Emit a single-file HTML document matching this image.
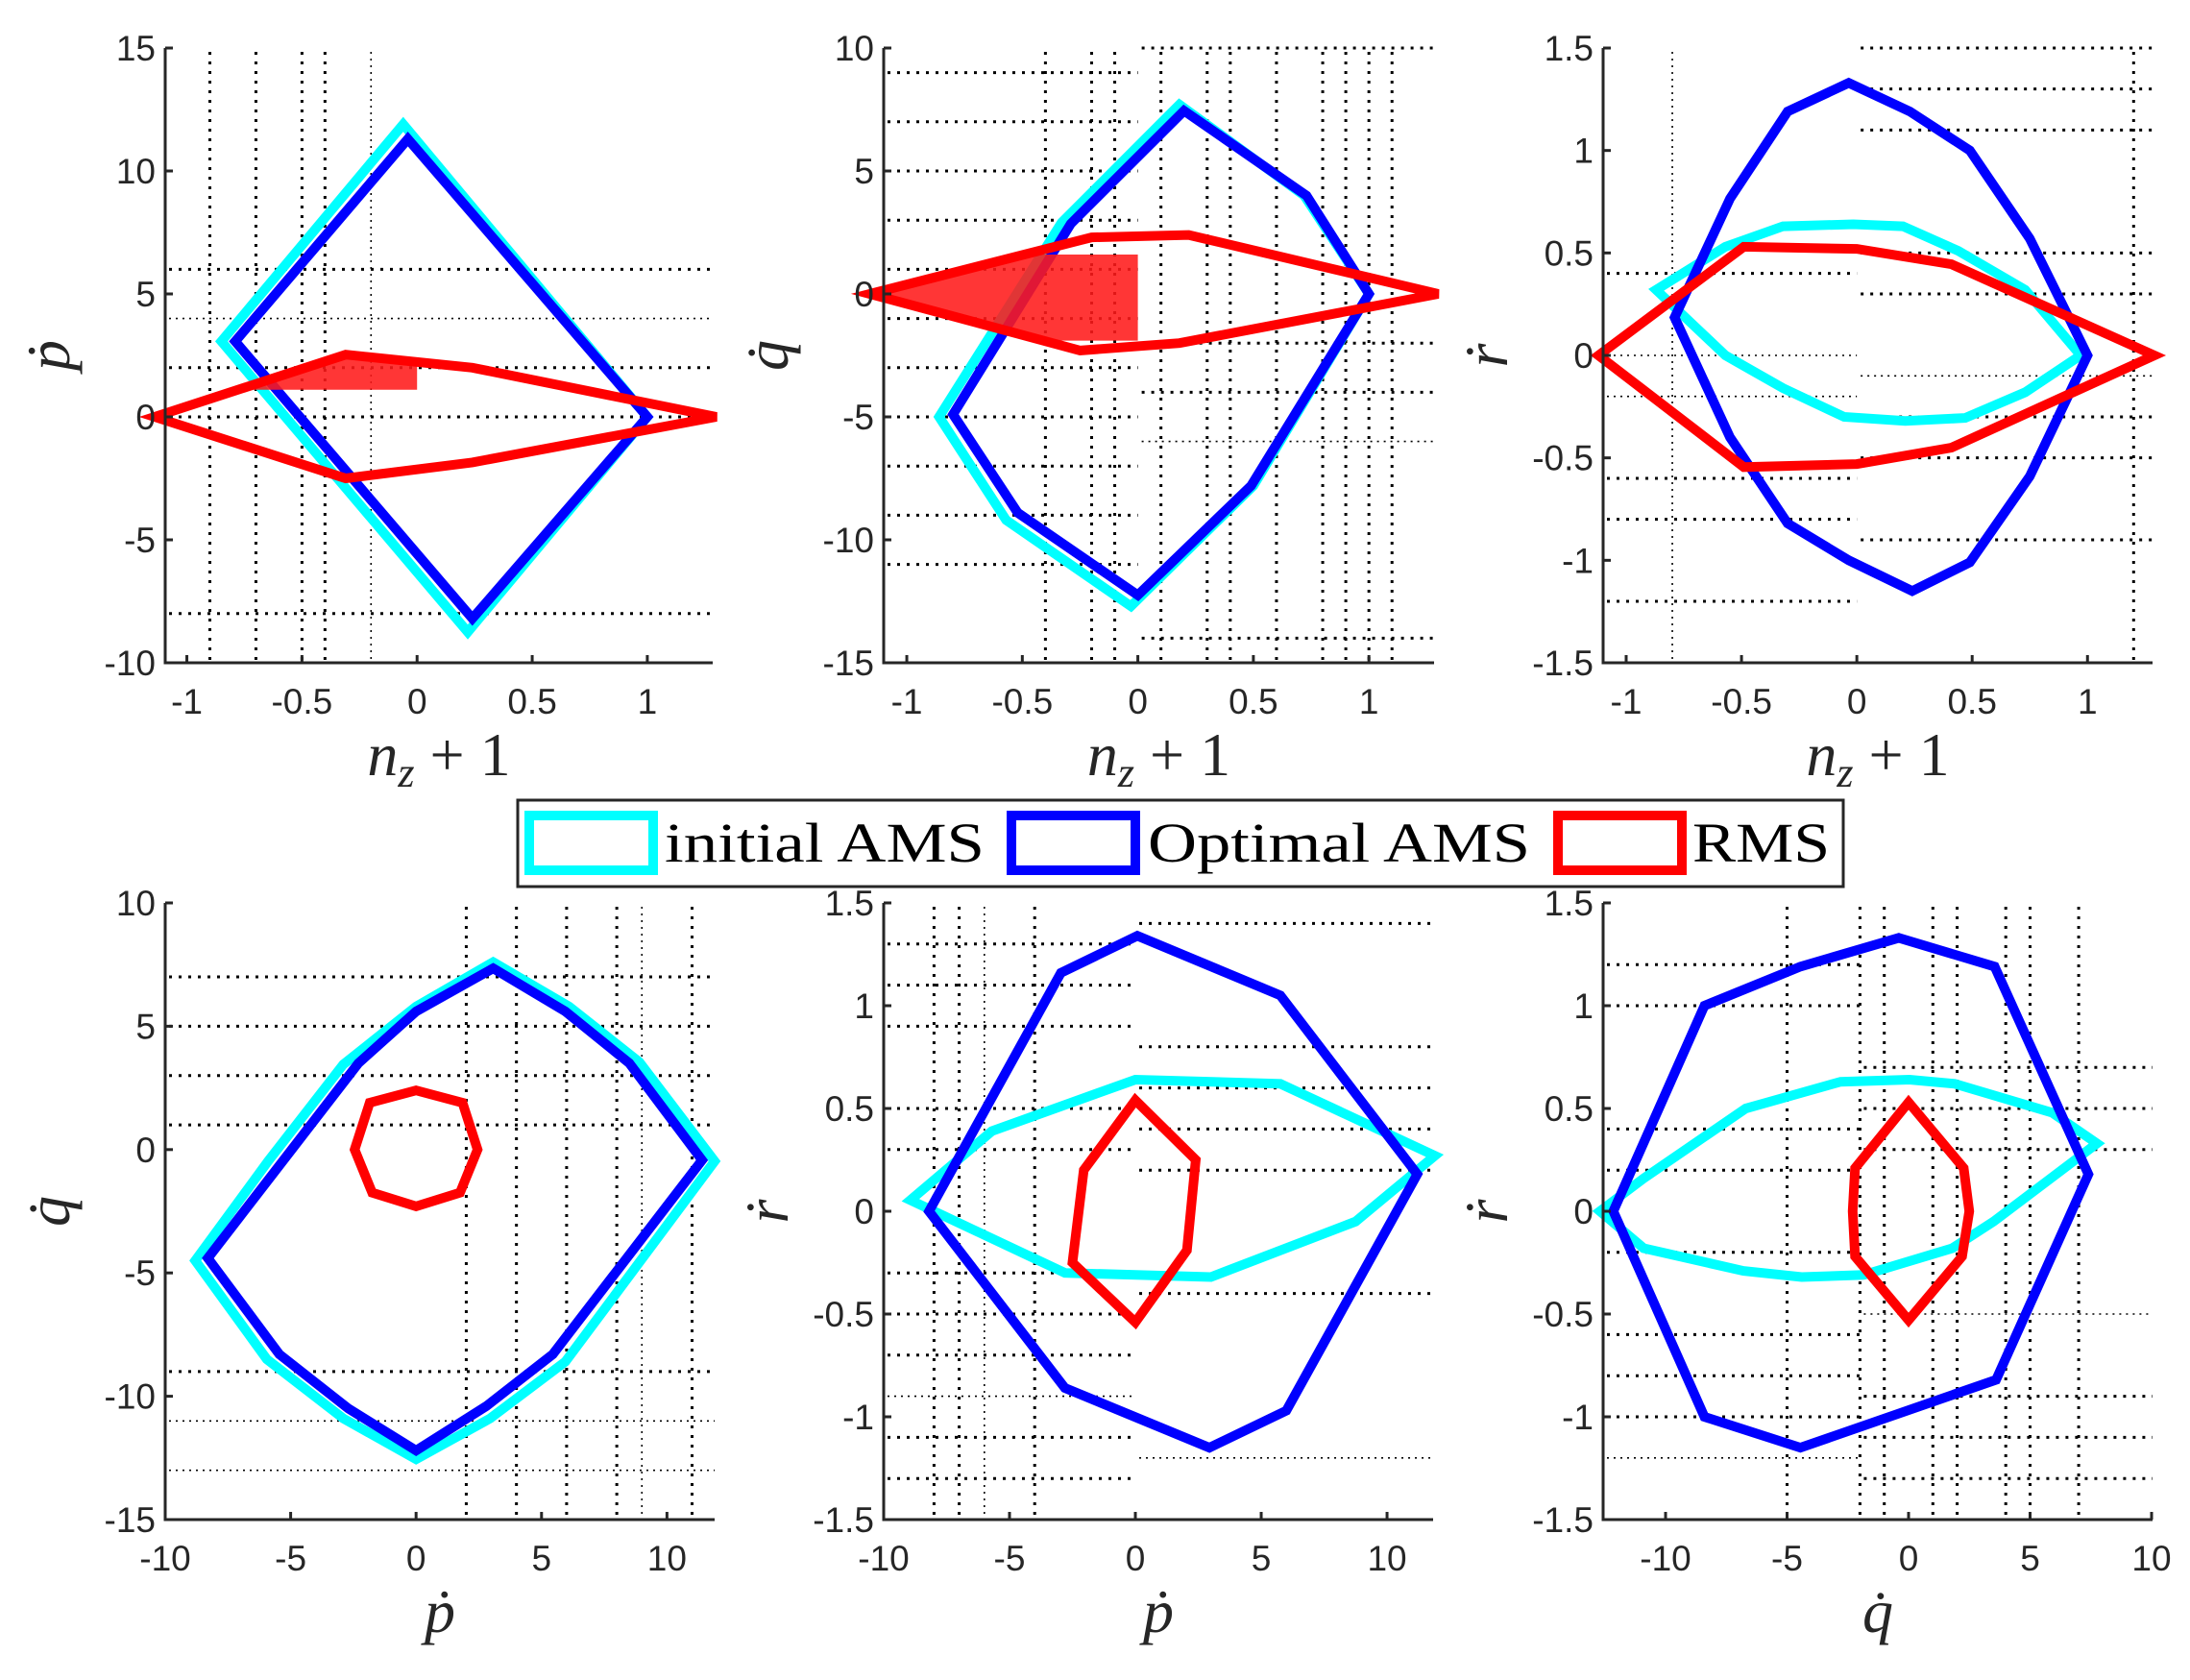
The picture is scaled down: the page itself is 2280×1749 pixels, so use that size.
<!DOCTYPE html>
<html><head><meta charset="utf-8">
<style>
html,body{margin:0;padding:0;background:#fff;}
svg{display:block;}
.tick{font-family:"Liberation Sans",sans-serif;font-size:37px;fill:#262626;}
.lab{font-family:"Liberation Serif",serif;font-style:italic;font-size:64px;fill:#262626;}
.leg{font-family:"Liberation Serif",serif;font-size:58px;fill:#000;}
</style></head>
<body>
<svg id="fig" width="2280" height="1749" viewBox="0 0 2280 1749" xmlns="http://www.w3.org/2000/svg">
<rect x="0" y="0" width="2280" height="1749" fill="#fff"/>
<g id="plots"></g>
<g>
  <rect x="539" y="833" width="1380" height="90" fill="#fff" stroke="#262626" stroke-width="3"/>
  <g>
    <rect x="551" y="849" width="129" height="57" fill="none" stroke="#00ffff" stroke-width="10"/>
    <text class="leg" x="692" y="897" textLength="333" lengthAdjust="spacingAndGlyphs">initial AMS</text>
  </g>
  <g>
    <rect x="1053" y="849" width="129" height="57" fill="none" stroke="#0000ff" stroke-width="10"/>
    <text class="leg" x="1195" y="897" textLength="398" lengthAdjust="spacingAndGlyphs">Optimal AMS</text>
  </g>
  <g>
    <rect x="1622" y="849" width="129" height="57" fill="none" stroke="#ff0000" stroke-width="10"/>
    <text class="leg" x="1762" y="897" textLength="143" lengthAdjust="spacingAndGlyphs">RMS</text>
  </g>
</g>
</svg>
<script>
// ---------- data ----------
const p1Cyan = [[-0.06,11.9],[1.0,0],[0.22,-8.75],[-0.85,3.07]];
const p1Blue = [[-0.04,11.3],[1.0,0],[0.24,-8.2],[-0.79,3.07]];
const p1Red  = [[-1.14,0],[-0.31,2.53],[0.24,2.0],[1.30,0],[0.24,-1.85],[-0.31,-2.5]];
const p1Fill = [[-0.72,1.1],[-0.31,2.45],[0,2.25],[0,1.1]];
const p2Cyan = [[0.18,7.7],[0.72,4.0],[1.0,0],[0.5,-7.8],[-0.03,-12.7],[-0.57,-9.2],[-0.86,-5.0],[-0.33,2.9]];
const p2Blue = [[0.20,7.45],[0.73,4.0],[1.0,0],[0.49,-7.8],[0,-12.25],[-0.52,-8.9],[-0.80,-4.9],[-0.29,2.85]];
const p2Red  = [[-1.16,0],[-0.2,2.3],[0.22,2.4],[1.30,0],[0.18,-2.0],[-0.25,-2.3]];
const p2Fill = [[-1.16,0],[-0.49,1.6],[0,1.6],[0,-1.9],[-0.41,-1.9]];
const p3Cyan = [[-0.87,0.32],[-0.57,0.53],[-0.32,0.63],[-0.015,0.64],[0.20,0.63],[0.44,0.51],[0.73,0.32],[0.97,0],[0.73,-0.18],[0.47,-0.305],[0.21,-0.32],[-0.055,-0.30],[-0.32,-0.16],[-0.57,0]];
const p3Blue = [[-0.035,1.33],[0.23,1.19],[0.49,1.0],[0.75,0.57],[1.0,0],[0.75,-0.59],[0.49,-1.01],[0.24,-1.15],[-0.035,-1.0],[-0.30,-0.82],[-0.55,-0.40],[-0.79,0.185],[-0.55,0.765],[-0.30,1.19]];
const p3Red  = [[-1.12,0],[-0.49,0.53],[0,0.52],[0.41,0.445],[1.29,0],[0.41,-0.45],[0,-0.53],[-0.49,-0.545]];
const p4Cyan = [[3.07,7.6],[6.1,5.8],[8.9,3.55],[11.9,-0.47],[5.95,-8.6],[2.95,-10.9],[0,-12.55],[-2.9,-10.9],[-5.95,-8.5],[-8.8,-4.5],[-5.9,-0.47],[-2.9,3.45],[0,5.8]];
const p4Blue = [[3.07,7.35],[5.95,5.6],[8.5,3.5],[11.4,-0.43],[5.45,-8.3],[2.8,-10.4],[0,-12.2],[-2.7,-10.5],[-5.45,-8.3],[-8.3,-4.4],[-2.3,3.5],[0,5.6]];
const p4Red  = [[0,2.4],[1.85,1.9],[2.45,0],[1.75,-1.75],[0,-2.3],[-1.75,-1.75],[-2.45,0],[-1.85,1.9]];
const p5Cyan = [[-8.94,0.054],[-5.7,0.39],[0,0.64],[5.76,0.62],[11.9,0.27],[8.75,-0.05],[3.0,-0.32],[-2.8,-0.30]];
const p5Blue = [[0.08,1.34],[5.76,1.05],[11.2,0.18],[6.0,-0.97],[2.94,-1.15],[-2.8,-0.86],[-8.2,0],[-2.96,1.16]];
const p5Red  = [[0,0.54],[2.4,0.25],[2.05,-0.19],[0,-0.54],[-2.5,-0.25],[-2.05,0.2]];
const p6Cyan = [[-12.7,0],[-10.9,0.16],[-6.7,0.5],[-2.8,0.63],[0.04,0.64],[1.9,0.62],[5.9,0.48],[7.75,0.33],[3.5,-0.05],[1.8,-0.18],[-1.85,-0.31],[-4.4,-0.32],[-6.8,-0.29],[-10.9,-0.18]];
const p6Blue = [[-0.4,1.33],[3.54,1.19],[7.4,0.18],[3.6,-0.82],[-4.45,-1.15],[-8.4,-1.0],[-12.15,0],[-8.4,1.0],[-4.45,1.19]];
const p6Red  = [[0,0.53],[2.27,0.21],[2.5,0],[2.2,-0.22],[0,-0.53],[-2.2,-0.22],[-2.3,0],[-2.2,0.21]];

const xTicksNz = [-1,-0.5,0,0.5,1];
const xTickLabelsNz = ["-1","-0.5","0","0.5","1"];
const yTicksP = [-10,-5,0,5,10,15];
const yTicksQ = [-15,-10,-5,0,5,10];
const yTicksR = [-1.5,-1,-0.5,0,0.5,1,1.5];
const yTickLabelsR = ["-1.5","-1","-0.5","0","0.5","1","1.5"];
const xTicksPQ = [-10,-5,0,5,10];

const p1GridV = [[-0.9,1],[-0.7,1],[-0.5,1],[-0.4,1],[-0.2,0]];
const p1GridH = [[6,1],[4,0],[2,1],[0,1],[-8,1]];
const p2GridV = [[-0.4,1],[-0.2,1],[-0.1,1],[0.1,1],[0.3,1],[0.4,1],[0.6,1],[0.8,1],[0.9,1],[1.0,1],[1.1,1]];
const p2GridH = [[9,1,-9,0],[7,1,-9,0],[5,1,-9,0],[3,1,-9,0],[1,1,-9,0],[-1,1,-9,0],[-3,1,-9,0],[-5,1,-9,0],[-7,1,-9,0],[-9,1,-9,0],[-11,1,-9,0],[10,1,0,9],[-2,1,0,9],[-4,1,0,9],[-6,0,0,9],[-14,1,0,9]];
const p3GridV = [[-0.8,0],[1.2,1]];
const p3GridH = [[0.4,1,-9,0],[0,0,-9,0],[-0.2,0,-9,0],[-0.6,1,-9,0],[-0.8,1,-9,0],[-1.2,1,-9,0],[1.5,1,0,9],[1.3,1,0,9],[1.1,1,0,9],[0.5,1,0,9],[0.3,1,0,9],[-0.1,0,0,9],[-0.3,1,0,9],[-0.5,1,0,9],[-0.9,1,0,9]];
const p4GridV = [[2,1],[4,1],[6,1],[8,1],[9,0],[11,1]];
const p4GridH = [[7,1],[5,1],[3,1],[1,1],[-9,1],[-11,0],[-13,0]];
const p5GridV = [[-8,1],[-7,1],[-6,0],[-4,1]];
const p5GridH = [[1.3,1,-99,0],[1.1,1,-99,0],[0.9,1,-99,0],[0.5,1,-99,0],[0.3,1,-99,0],[-0.3,1,-99,0],[-0.5,1,-99,0],[-0.7,1,-99,0],[-0.9,0,-99,0],[-1.1,1,-99,0],[-1.3,1,-99,0],[1.4,1,0,99],[0.8,1,0,99],[0.6,1,0,99],[0.4,1,0,99],[0.2,1,0,99],[-0.4,1,0,99],[-1.2,0,0,99]];
const p6GridV = [[-5,1],[-2,1],[-1,1],[1,1],[2,1],[4,1],[5,1],[7,1]];
const p6GridH = [[1.2,1,-99,-2],[1.0,1,-99,-2],[0.4,1,-99,-2],[0.2,1,-99,-2],[-0.2,1,-99,-2],[-0.6,1,-99,-2],[-0.8,1,-99,-2],[-1.0,1,-99,-2],[-1.2,0,-99,-2],[0.7,1,-2,99],[0.5,1,-2,99],[0.3,1,-2,99],[-0.5,0,-2,99],[-0.9,1,-2,99],[-1.1,1,-2,99],[-1.3,1,-2,99]];

const NS = "http://www.w3.org/2000/svg";
const root = document.getElementById('plots');
function mk(tag, attrs, parent){ const e=document.createElementNS(NS,tag); for(const k in attrs) e.setAttribute(k,attrs[k]); parent.appendChild(e); return e; }

const panels = [
 {name:'nz-vs-pdot', L:172, T:50, W:570, H:640, xlim:[-1.094,1.284], ylim:[-10,15], xt:xTicksNz, xtl:xTickLabelsNz, yt:yTicksP, ytl:yTicksP.map(String), cyan:p1Cyan, blue:p1Blue, red:p1Red, fill:p1Fill, gv:p1GridV, gh:p1GridH, xl:'nz', yl:'p'},
 {name:'nz-vs-qdot', L:920, T:50, W:573, H:640, xlim:[-1.10,1.282], ylim:[-15,10], xt:xTicksNz, xtl:xTickLabelsNz, yt:yTicksQ, ytl:yTicksQ.map(String), cyan:p2Cyan, blue:p2Blue, red:p2Red, fill:p2Fill, gv:p2GridV, gh:p2GridH, xl:'nz', yl:'q'},
 {name:'nz-vs-rdot', L:1669, T:50, W:572, H:640, xlim:[-1.10,1.282], ylim:[-1.5,1.5], xt:xTicksNz, xtl:xTickLabelsNz, yt:yTicksR, ytl:yTickLabelsR, cyan:p3Cyan, blue:p3Blue, red:p3Red, fill:null, gv:p3GridV, gh:p3GridH, xl:'nz', yl:'r'},
 {name:'pdot-vs-qdot', L:172, T:940, W:572, H:642, xlim:[-10,11.9], ylim:[-15,10], xt:xTicksPQ, xtl:xTicksPQ.map(String), yt:yTicksQ, ytl:yTicksQ.map(String), cyan:p4Cyan, blue:p4Blue, red:p4Red, fill:null, gv:p4GridV, gh:p4GridH, xl:'p', yl:'q'},
 {name:'pdot-vs-rdot', L:920, T:940, W:572, H:642, xlim:[-10,11.83], ylim:[-1.5,1.5], xt:xTicksPQ, xtl:xTicksPQ.map(String), yt:yTicksR, ytl:yTickLabelsR, cyan:p5Cyan, blue:p5Blue, red:p5Red, fill:null, gv:p5GridV, gh:p5GridH, xl:'p', yl:'r'},
 {name:'qdot-vs-rdot', L:1669, T:940, W:572, H:642, xlim:[-12.57,10.04], ylim:[-1.5,1.5], xt:xTicksPQ, xtl:xTicksPQ.map(String), yt:yTicksR, ytl:yTickLabelsR, cyan:p6Cyan, blue:p6Blue, red:p6Red, fill:null, gv:p6GridV, gh:p6GridH, xl:'q', yl:'r'}
];

const dotted = {p:'\u1E57', q:'q\u0307', r:'\u1E59'};

panels.forEach(P=>{
  const g = mk('g',{},root);
  
  
  const sx = v => P.L + (v-P.xlim[0])/(P.xlim[1]-P.xlim[0])*P.W;
  const sy = v => P.T + P.H - (v-P.ylim[0])/(P.ylim[1]-P.ylim[0])*P.H;
  const clampX = v => Math.max(P.L, Math.min(P.L+P.W, sx(v)));
  const gg = mk('g',{},g);
  
  
  P.gv.forEach(d=>{
    const x = sx(d[0]);
    const l = mk('line',{x1:x,x2:x,y1:P.T+4,y2:P.T+P.H,stroke:'#000','stroke-width':d[1]?3:1.6,'stroke-dasharray':d[1]?'3 7':'2 5'},gg);
    
    
  });
  P.gh.forEach(d=>{
    const y = sy(d[0]);
    const x1 = d.length>2 ? clampX(d[2]) : P.L;
    const x2 = d.length>2 ? clampX(d[3]) : P.L+P.W;
    const l = mk('line',{x1:x1+4,x2:x2,y1:y,y2:y,stroke:'#000','stroke-width':d[1]?3:1.6,'stroke-dasharray':d[1]?'3 7':'2 5'},gg);
    
    
  });
  const pts = arr => arr.map(p=>sx(p[0]).toFixed(1)+','+sy(p[1]).toFixed(1)).join(' ');
  const c = mk('polygon',{points:pts(P.cyan),fill:'none',stroke:'#00ffff','stroke-width':10,'stroke-linejoin':'miter'},g);
  
  
  const b = mk('polygon',{points:pts(P.blue),fill:'none',stroke:'#0000ff','stroke-width':10,'stroke-linejoin':'miter'},g);
  
  
  if(P.fill){
    const f = mk('polygon',{points:pts(P.fill),fill:'#ff1a1a','fill-opacity':0.88,stroke:'none'},g);
    
    
  }
  const r = mk('polygon',{points:pts(P.red),fill:'none',stroke:'#ff0000','stroke-width':10,'stroke-linejoin':'miter'},g);
  
  
  const ax = mk('path',{d:`M${P.L},${P.T} V${P.T+P.H} H${P.L+P.W}`,fill:'none',stroke:'#262626','stroke-width':3},g);
  
  
  P.xt.forEach((v,i)=>{
    const x=sx(v);
    mk('line',{x1:x,x2:x,y1:P.T+P.H,y2:P.T+P.H-8,stroke:'#262626','stroke-width':3},g);
    const t = mk('text',{x:x,y:P.T+P.H+53,'text-anchor':'middle',class:'tick'},g);
    t.textContent = P.xtl[i];
    
    
  });
  P.yt.forEach((v,i)=>{
    const y=sy(v);
    mk('line',{x1:P.L,x2:P.L+8,y1:y,y2:y,stroke:'#262626','stroke-width':3},g);
    const t = mk('text',{x:P.L-10,y:y+13,'text-anchor':'end',class:'tick'},g);
    t.textContent = P.ytl[i];
    
    
  });
  const cx = P.L + P.W/2;
  const xl = mk('text',{x:cx,y:P.T+P.H+117,'text-anchor':'middle',class:'lab'},g);
  
  
  if(P.xl==='nz'){
    const a = mk('tspan',{},xl); a.textContent='n';
    const s = mk('tspan',{dy:12,'font-size':44},xl); s.textContent='z';
    const e = mk('tspan',{dy:-12,'font-style':'normal'},xl); e.textContent=' +\u00A01';
  } else {
    xl.textContent = dotted[P.xl];
  }
  const yx = P.L-100, yy = P.T + P.H/2;
  const yl = mk('text',{x:yx,y:yy,'text-anchor':'middle',class:'lab',transform:`rotate(-90 ${yx} ${yy})`},g);
  yl.textContent = dotted[P.yl];
  
  
});
</script>
</body></html>
